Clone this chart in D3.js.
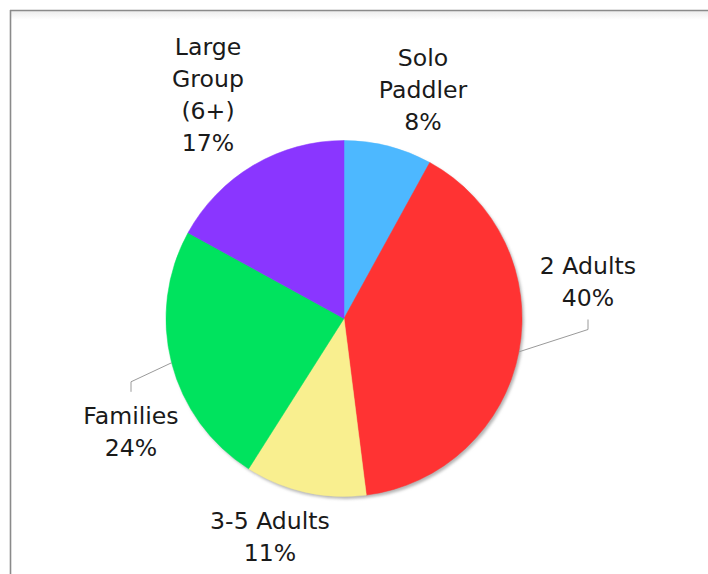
<!DOCTYPE html>
<html>
<head>
<meta charset="utf-8">
<script src="https://cdn.jsdelivr.net/npm/d3@7"></script>
<style>
  html, body { margin: 0; padding: 0; background: #fff; }
  svg { display: block; }
</style>
</head>
<body>
<script>
// ---- data ----
const categories = ["Solo Paddler", "2 Adults", "3-5 Adults", "Families", "Large Group (6+)"];
const values = [8, 40, 11, 24, 17];
const labelLines = [["Solo", "Paddler", "8%"], ["2 Adults", "40%"], ["3-5 Adults", "11%"], ["Families", "24%"], ["Large", "Group", "(6+)", "17%"]];
const colors = ["#4db8ff", "#ff3333", "#f9ef8f", "#00e35e", "#8a36ff"];

// ---- layout (not data) ----
const W = 708, H = 574;
const cx = 344, cy = 318.5, R = 178;
const lineH = 32, fontSize = 23.6;
// label block: x centre and first baseline, relative to pie centre
const labelOffsets = [[79, -253], [244, -45], [-74, 210], [-213, 105], [-136, -264]];
const hasLeader = [false, true, false, true, false];

const svg = d3.select("body").append("svg").attr("width", W).attr("height", H);
const defs = svg.append("defs");
const blur = defs.append("filter").attr("id", "blur").attr("x", "-10%").attr("y", "-10%").attr("width", "120%").attr("height", "120%");
blur.append("feGaussianBlur").attr("stdDeviation", 1.5);
const grad = defs.append("linearGradient").attr("id", "topShade").attr("x1", 0).attr("y1", 0).attr("x2", 0).attr("y2", 1);
grad.append("stop").attr("offset", "0%").attr("stop-color", "#ececec");
grad.append("stop").attr("offset", "100%").attr("stop-color", "#ffffff");

// frame
svg.append("rect").attr("x", 11).attr("y", 11).attr("width", W - 11).attr("height", 9).attr("fill", "url(#topShade)");
svg.append("line").attr("x1", 10).attr("x2", W).attr("y1", 10.5).attr("y2", 10.5).attr("stroke", "#8a8a8a").attr("stroke-width", 1.6);
svg.append("line").attr("x1", 10.5).attr("x2", 10.5).attr("y1", 10).attr("y2", H).attr("stroke", "#8a8a8a").attr("stroke-width", 1.6);

const pie = d3.pie().value(d => d).sort(null);
const arcs = pie(values);
const arc = d3.arc().innerRadius(0).outerRadius(R);

const g = svg.append("g").attr("transform", `translate(${cx},${cy})`);
// shadow
g.append("circle").attr("cx", 2).attr("cy", 2.5).attr("r", R).attr("fill", "#b5b5b5").attr("filter", "url(#blur)");
g.selectAll("path.slice").data(arcs).join("path")
  .attr("class", "slice")
  .attr("d", arc)
  .attr("fill", (d, i) => colors[i])
  .attr("stroke", (d, i) => colors[i])
  .attr("stroke-width", 0.5);

// labels
const lab = g.selectAll("g.label").data(arcs).join("g").attr("class", "label");
lab.each(function(d, i) {
  const [ox, oy] = labelOffsets[i];
  const t = d3.select(this).append("text")
    .attr("text-anchor", "middle")
    .attr("font-family", "'DejaVu Sans', Verdana, sans-serif")
    .attr("font-size", fontSize)
    .attr("fill", "#1a1a1a");
  labelLines[i].forEach((s, k) => {
    t.append("tspan").attr("x", ox).attr("y", oy + k * lineH).text(s);
  });
  if (hasLeader[i]) {
    const mid = (d.startAngle + d.endAngle) / 2;
    const ex = R * Math.sin(mid), ey = -R * Math.cos(mid);
    const nLines = labelLines[i].length;
    let y1, y2;
    if (ey < oy) {
      y1 = oy - fontSize * 0.75 - 14; y2 = y1 - 10;
    } else {
      y1 = oy + (nLines - 1) * lineH + 14; y2 = y1 + 10;
    }
    d3.select(this).append("polyline")
      .attr("points", `${ox},${y1} ${ox},${y2} ${ex},${ey}`)
      .attr("fill", "none").attr("stroke", "#9a9a9a").attr("stroke-width", 1);
  }
});
</script>
</body>
</html>
